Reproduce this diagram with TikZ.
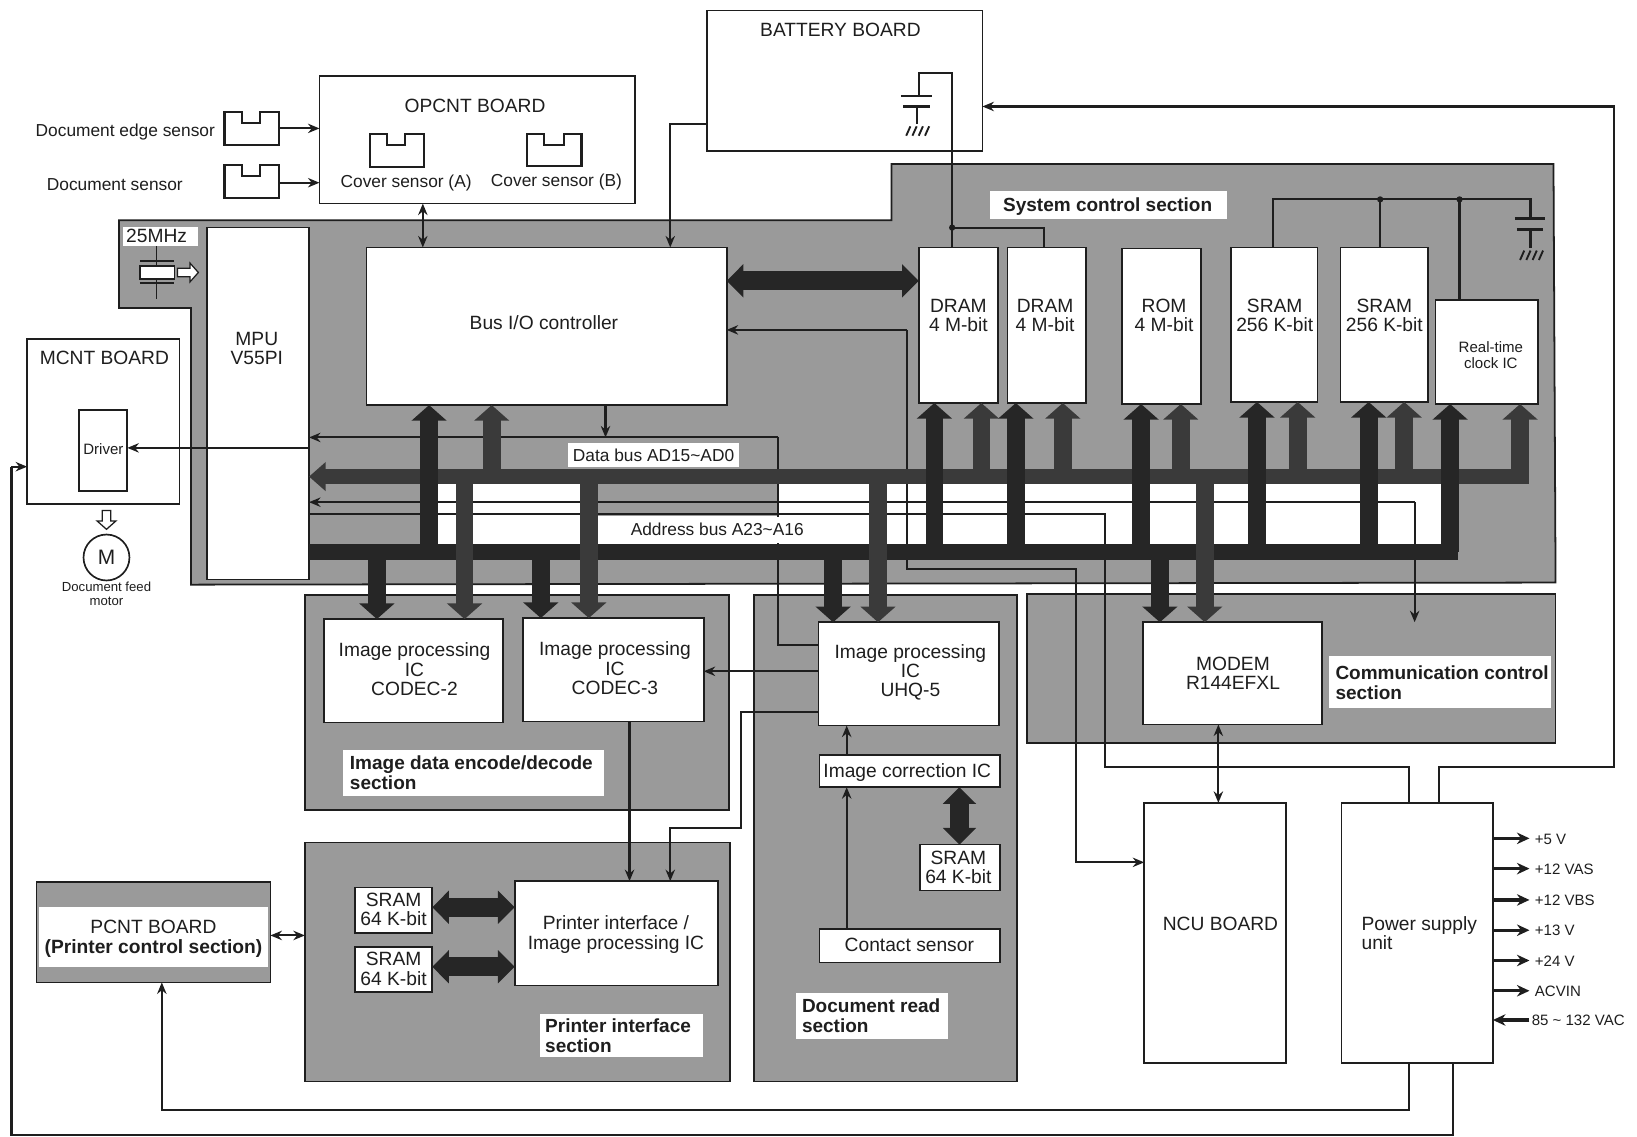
\documentclass[tikz,border=0pt]{standalone}
\usepackage{fontspec}
\setmainfont{Liberation Sans}
\usetikzlibrary{arrows.meta,calc}
\definecolor{secgray}{HTML}{9A9A9A}
\definecolor{busa}{HTML}{262626}
\definecolor{busd}{HTML}{3A3A3A}
\definecolor{ink}{HTML}{1E1E1E}
\newcommand{\fs}[1]{\fontsize{#1}{#1}\selectfont}
\newcommand{\mkbox}[6][boxstyle]{\node[#1, minimum width={(#5-#3)*1pt}, minimum height={(#6-#4)*1pt}] (#2) at ({(#3+#5)/2},{(#4+#6)/2}) {};}
\newcommand{\mktxt}[5][lbl]{\node[#1] (#2) at (#3,#4) {#5};}
\newcommand{\mksensor}[8]{%
  \node[inner sep=0pt,outer sep=0pt,minimum width={(#4-#2)*1pt},minimum height={(#5-#3)*1pt}] (#1) at ({(#2+#4)/2},{(#3+#5)/2}) {};
  \draw[wire,fill=white] (#2,#3) -- (#6,#3) -- (#6,#8) -- (#7,#8) -- (#7,#3) -- (#4,#3) -- (#4,#5) -- (#2,#5) -- cycle;}
\tikzset{
  x=1pt,y=-1pt,
  boxstyle/.style={draw=ink,line width=1.7pt,fill=white,inner sep=0pt,outer sep=0pt},
  secstyle/.style={draw=ink,line width=1.7pt,fill=secgray,inner sep=0pt,outer sep=0pt},
  whitepad/.style={fill=white,inner sep=0pt,outer sep=0pt},
  graypad/.style={fill=secgray,inner sep=0pt,outer sep=0pt},
  busbar/.style={inner sep=0pt,outer sep=0pt},
  lbl/.style={text=ink,font=\fs{18.4},align=center,inner sep=0pt,baseline},
  lblb/.style={text=ink,font=\fontsize{18.2}{19}\selectfont\bfseries,align=left,inner sep=0pt},
  lbll/.style={text=ink,font=\fontsize{18.4}{18.5}\selectfont,align=left,inner sep=0pt},
  lblm/.style={text=ink,font=\fs{16.6},align=center,inner sep=0pt},
  lbls/.style={text=ink,font=\fontsize{14.4}{14.8}\selectfont,align=left,inner sep=0pt},
  lblc/.style={text=ink,font=\fontsize{18.4}{18.6}\selectfont,align=center,inner sep=0pt},
  wire/.style={draw=ink,line width=2pt},
  arr/.style={wire,-{Stealth[length=11pt,width=9pt]}},
  darr/.style={wire,{Stealth[length=11pt,width=9pt]}-{Stealth[length=11pt,width=9pt]}},
  parr/.style={draw=ink,line width=3pt,-{Stealth[length=12pt,width=11pt]}},
  fata/.style={draw=busa,line width=17pt,-{Triangle[length=15pt,width=33pt]}},
  fatd/.style={draw=busd,line width=17pt,-{Triangle[length=15pt,width=33pt]}},
  fatdbl/.style={draw=busa,line width=18pt,{Triangle[length=16pt,width=31pt]}-{Triangle[length=16pt,width=31pt]}},
}
\begin{document}
\begin{tikzpicture}
\useasboundingbox (0,0) rectangle (1568,1089);
\fill[white] (0,0) rectangle (1568,1089);
% helper coordinates
\foreach \v in {361,411,445,471,518,564,580,603,642,710,745,798,811,841,869,895,912,919,940,973,1000,1018,1031,1058,1093,1111,1131,1154,1167,1204,1219,1243,1311,1322,1345,1350,1355,1378,1389,1392,1398,1456,1466,1546,405,155,11}
  \coordinate (x\v) at (\v,0);
\foreach \v in {70,102,119,123,175,191,218,269,316,419,429,447,481,492,545,618,643,682,735,793,826,869,896,926,1063,1087,803,832,862,891,920,949,977}
  \coordinate (y\v) at (0,\v);
% sections
\path[secstyle] (114,211) -- (854,211) -- (854,157) -- (1488,157) -- (1490,558) -- (183,560) -- (183,295) -- (114,295) -- cycle;
\mkbox[secstyle]{imgsec}{292}{570}{698}{776}
\mkbox[secstyle]{prnsec}{292}{807}{699}{1036}
\mkbox[secstyle]{docsec}{722}{570}{974}{1036}
\mkbox[secstyle]{comsec}{984}{569}{1490}{712}
\mkbox[whitepad]{band}{420}{463}{1381}{521}
\mkbox[graypad]{bandgray}{556}{463}{746}{494}
% boards and chips
\mkbox{battery}{677}{10}{941}{145}
\mkbox{opcnt}{306}{73}{608}{195}
\mkbox{mcnt}{26}{325}{172}{483}
\mkbox{driver}{76}{393}{122}{470}
\mkbox{mpu}{198}{218}{296}{555}
\mkbox{bio}{351}{237}{696}{388}
\mkbox{dram1}{880}{237}{956}{386}
\mkbox{dram2}{965}{237}{1040}{386}
\mkbox{rom}{1075}{238}{1150}{387}
\mkbox{sram1}{1179}{237}{1262}{385}
\mkbox{sram2}{1284}{237}{1368}{385}
\mkbox{rtc}{1375}{287}{1473}{387}
\mkbox{codec2}{310}{593}{482}{692}
\mkbox{codec3}{501}{592}{674}{691}
\mkbox{uhq}{784}{596}{957}{695}
\mkbox{imgcor}{785}{723}{958}{754}
\mkbox{sram64c}{881}{809}{958}{853}
\mkbox{contact}{785}{890}{958}{922}
\mkbox{modem}{1095}{596}{1266}{694}
\mkbox{ncu}{1096}{769}{1232}{1018}
\mkbox{psu}{1285}{769}{1430}{1018}
\mkbox{sram64a}{340}{850}{414}{894}
\mkbox{sram64b}{340}{907}{414}{950}
\mkbox{prnif}{493}{844}{688}{944}
\mkbox[secstyle]{pcnt}{35}{845}{259}{941}
\mkbox[whitepad]{pcntband}{37}{869}{257}{926}
% sensors
\mksensor{edge}{215}{107}{267}{139}{232}{249}{118}
\mksensor{docs}{215}{158}{267}{190}{232}{249}{169}
\mksensor{cova}{354}{128}{406}{160}{371}{388}{139}
\mksensor{covb}{505}{128}{557}{159}{521}{540}{139}
% thin wires
\draw[arr] (edge.east |- y123) -- (opcnt.west |- y123);
\draw[arr] (docs.east |- y175) -- (opcnt.west |- y175);
\draw[darr] (x405 |- opcnt.south) -- (x405 |- bio.north);
\draw[arr] (battery.west |- y119) -| (x642 |- bio.north);
\draw[arr] (mpu.east |- y429) -- (driver.east |- y429);
\draw[wire] (x1392 |- psu.south) -- (x1392 |- y1087) -- (x11 |- y1087) -- (x11 |- y447);
\draw[arr] (x11 |- y447) -- (mcnt.west |- y447);
\draw[arr] (x1350 |- psu.south) -- (x1350 |- y1063) -- (x155 |- y1063) -- (x155 |- pcnt.south);
\draw[arr] (x1378 |- psu.north) -- (x1378 |- y735) -- (x1546 |- y735) -- (x1546 |- y102) -- (battery.east |- y102);
\draw[wire] (x1350 |- psu.north) -- (x1350 |- y735) -- (x1058 |- y735) -- (x1058 |- y492) -- (mpu.east |- y492);
\draw[arr] (x1355 |- y481) -- (mpu.east |- y481);
\draw[arr] (x1355 |- y481) -- (1355,596);
\draw[arr] (x580 |- bio.south) -- (x580 |- y419);
\draw[arr] (x745 |- y419) -- (mpu.east |- y419);
\draw[wire] (uhq.west |- y618) -- (x745 |- y618) -- (x745 |- y419);
\draw[arr] (x869 |- y316) -- (bio.east |- y316);
\draw[arr] (x869 |- y316) -- (x869 |- y545) -- (x1031 |- y545) -- (x1031 |- y826) -- (ncu.west |- y826);
\draw[arr] (uhq.west |- y643) -- (codec3.east |- y643);
\draw[arr] (uhq.west |- y682) -- (x710 |- y682) -- (x710 |- y793) -- (x642 |- y793) -- (x642 |- prnif.north);
\draw[arr] (x603 |- codec3.south) -- (x603 |- prnif.north);
\draw[arr] (x811 |- imgcor.north) -- (x811 |- uhq.south);
\draw[arr] (x811 |- contact.north) -- (x811 |- imgcor.south);
\draw[darr] (x1167 |- modem.south) -- (x1167 |- ncu.north);
\draw[darr] (pcnt.east |- y896) -- (prnsec.west |- y896);
% backup wires and capacitors
\draw[wire] (x912 |- dram1.north) -- (x912 |- y70) -- (880,70) -- (880,92);
\draw[wire] (x912 |- y218) -- (x1000 |- y218) -- (x1000 |- dram2.north);
\fill[ink] (x912 |- y218) circle (3pt);
\draw[draw=ink,line width=2.6pt] (863,92) -- (893,92);
\draw[draw=ink,line width=2.6pt] (865,102) -- (891,102);
\draw[wire] (878,102) -- (878,119);
\foreach \h in {868,874,880,886} \draw[draw=ink,line width=1.8pt] (\h,130) -- (\h+4,121);
\draw[wire] (x1219 |- sram1.north) -- (x1219 |- y191) -- (x1466 |- y191) -- (1466,209);
\draw[wire] (x1322 |- y191) -- (x1322 |- sram2.north);
\draw[wire] (x1398 |- y191) -- (x1398 |- rtc.north);
\fill[ink] (x1322 |- y191) circle (3pt);
\fill[ink] (x1398 |- y191) circle (3pt);
\draw[draw=ink,line width=2.6pt] (1451,209) -- (1480,209);
\draw[draw=ink,line width=2.6pt] (1453,220) -- (1478,220);
\draw[wire] (1466,220) -- (1466,238);
\foreach \h in {1456,1462,1468,1474} \draw[draw=ink,line width=1.8pt] (\h,249) -- (\h+4,240);
% crystal
\draw[draw=ink,line width=1.3pt] (150,236) -- (150,286);
\draw[draw=ink,line width=1.3pt] (134,250) -- (167,250);
\draw[draw=ink,line width=1.3pt] (134,271) -- (167,271);
\draw[draw=ink,line width=1.6pt,fill=white] (134,255) rectangle (167,267);
\draw[draw=ink,line width=1.2pt,fill=white] (170,257) -- (182,257) -- (182,252) -- (190,261) -- (182,270) -- (182,265) -- (170,265) -- cycle;
% motor
\draw[draw=ink,line width=1.2pt,fill=white] (98,489) -- (106,489) -- (106,499) -- (111,499) -- (102,507) -- (93,499) -- (98,499) -- cycle;
\node[draw=ink,line width=1.6pt,fill=white,circle,minimum size=44pt,inner sep=0pt,text=ink,font=\fs{20}] (motor) at (102,534) {M};
% label pads
\mkbox[whitepad]{addrpad}{572}{495}{833}{520}
\mkbox[whitepad]{datapad}{544}{424}{708}{447}
\mkbox[whitepad]{mhzpad}{118}{217}{190}{236}
\mkbox[whitepad]{syspad}{948}{183}{1175}{210}
\mkbox[whitepad]{imgpad}{329}{718}{579}{762}
\mkbox[whitepad]{prnpad}{517}{971}{673}{1012}
\mkbox[whitepad]{docpad}{762}{951}{908}{995}
\mkbox[whitepad]{compad}{1273}{628}{1486}{678}
% buses
\mkbox[busbar,fill=busa]{abus}{296}{521}{1397}{536}
\mkbox[busbar,fill=busd]{dbus}{310}{449}{1465}{464}
\foreach \n/\t in {411/bio,895/dram1,973/dram2,1093/rom,1204/sram1,1311/sram2,1389/rtc}
  \draw[fata] (abus.center -| x\n) -- (x\n |- \t.south);
\foreach \n/\t in {361/codec2,518/codec3,798/uhq,1111/modem}
  \draw[fata] (abus.center -| x\n) -- (x\n |- \t.north);
\foreach \n/\t in {471/bio,940/dram1,1018/dram2,1131/rom,1243/sram1,1345/sram2,1456/rtc}
  \draw[fatd] (dbus.center -| x\n) -- (x\n |- \t.south);
\foreach \n/\t in {445/codec2,564/codec3,841/uhq,1154/modem}
  \draw[fatd] (dbus.center -| x\n) -- (x\n |- \t.north);
\draw[draw=busd,line width=15pt,-{Triangle[length=16pt,width=27pt]}] (dbus.west) -- (mpu.east |- dbus.west);
\draw[fatdbl] (bio.east |- y269) -- (dram1.west |- y269);
\draw[fatdbl] (sram64a.east |- y869) -- (prnif.west |- y869);
\draw[fatdbl] (sram64b.east |- y926) -- (prnif.west |- y926);
\draw[fatdbl] (x919 |- imgcor.south) -- (x919 |- sram64c.north);
% power rails
\foreach \v in {803,832,862,891,920,949}
  \draw[parr] (psu.east |- y\v) -- (1465,\v);
\draw[parr] (1465,977) -- (psu.east |- y977);
% texts
\mktxt{tbat}{805}{29}{BATTERY BOARD}
\mktxt{topc}{455}{101}{OPCNT BOARD}
\mktxt[lblm]{tcova}{389}{175}{Cover sensor (A)}
\mktxt[lblm]{tcovb}{533}{174}{Cover sensor (B)}
\mktxt[lblm]{tedge}{120}{126}{Document edge sensor}
\mktxt[lblm]{tdocs}{110}{177}{Document sensor}
\mktxt{tmhz}{150}{226}{25MHz}
\mktxt[lblc]{tmpu}{246}{334}{MPU\\V55PI}
\mktxt{tbio}{521}{309}{Bus I/O controller}
\mktxt{tmcnt}{100}{343}{MCNT BOARD}
\mktxt[lbls]{tdrv}{99}{430}{Driver}
\node[lbls,align=center,font=\fontsize{12.6}{13.4}\selectfont] (tmot) at (102,569) {Document feed\\motor};
\mktxt[lblm]{tdata}{626}{436}{Data bus AD15\textasciitilde AD0}
\mktxt[lblm]{taddr}{687}{507}{Address bus A23\textasciitilde A16}
\mktxt[lblb]{tsys}{1061}{198}{System control section}
\mktxt[lblc]{td1}{918}{302}{DRAM\\4 M-bit}
\mktxt[lblc]{td2}{1001}{302}{DRAM\\4 M-bit}
\mktxt[lblc]{trom}{1115}{302}{ROM\\4 M-bit}
\mktxt[lblc]{ts1}{1221}{302}{SRAM\\256 K-bit}
\mktxt[lblc]{ts2}{1326}{302}{SRAM\\256 K-bit}
\node[lbls,align=center] (trtc) at (1428,340) {Real-time\\clock IC};
\mktxt[lblc]{tc2}{397}{641}{Image processing\\IC\\CODEC-2}
\mktxt[lblc]{tc3}{589}{640}{Image processing\\IC\\CODEC-3}
\mktxt[lblc]{tuhq}{872}{644}{Image processing\\IC\\UHQ-5}
\node[lblb,anchor=west] (timg) at (335,740) {Image data encode/decode\\section};
\node[lblb,anchor=west] (tprn) at (522,992) {Printer interface\\section};
\node[lblb,anchor=west] (tdoc) at (768,973) {Document read\\section};
\node[lblb,anchor=west] (tcom) at (1279,654) {Communication control\\section};
\mktxt{tcor}{869}{740}{Image correction IC}
\mktxt[lblc]{ts64c}{918}{831}{SRAM\\64 K-bit}
\mktxt{tcon}{871}{905}{Contact sensor}
\mktxt[lblc]{tmod}{1181}{645}{MODEM\\R144EFXL}
\mktxt{tncu}{1169}{885}{NCU BOARD}
\node[lbll,anchor=west] (tpsu) at (1304,894) {Power supply\\unit};
\mktxt[lblc]{ts64a}{377}{871}{SRAM\\64 K-bit}
\mktxt[lblc]{ts64b}{377}{928}{SRAM\\64 K-bit}
\mktxt[lblc]{tpif}{590}{895}{Printer interface /\\Image processing IC}
\node[lblc,font=\fontsize{18.4}{19}\selectfont] (tpc) at (147,899) {PCNT BOARD\\\textbf{(Printer control section)}};
\node[lbls,anchor=west] (v1) at (1470,804) {+5 V};
\node[lbls,anchor=west] (v2) at (1470,833) {+12 VAS};
\node[lbls,anchor=west] (v3) at (1470,862) {+12 VBS};
\node[lbls,anchor=west] (v4) at (1470,891) {+13 V};
\node[lbls,anchor=west] (v5) at (1470,921) {+24 V};
\node[lbls,anchor=west] (v6) at (1470,950) {ACVIN};
\node[lbls,anchor=west] (v7) at (1467,977) {85 \textasciitilde{} 132 VAC};
\end{tikzpicture}
\end{document}
